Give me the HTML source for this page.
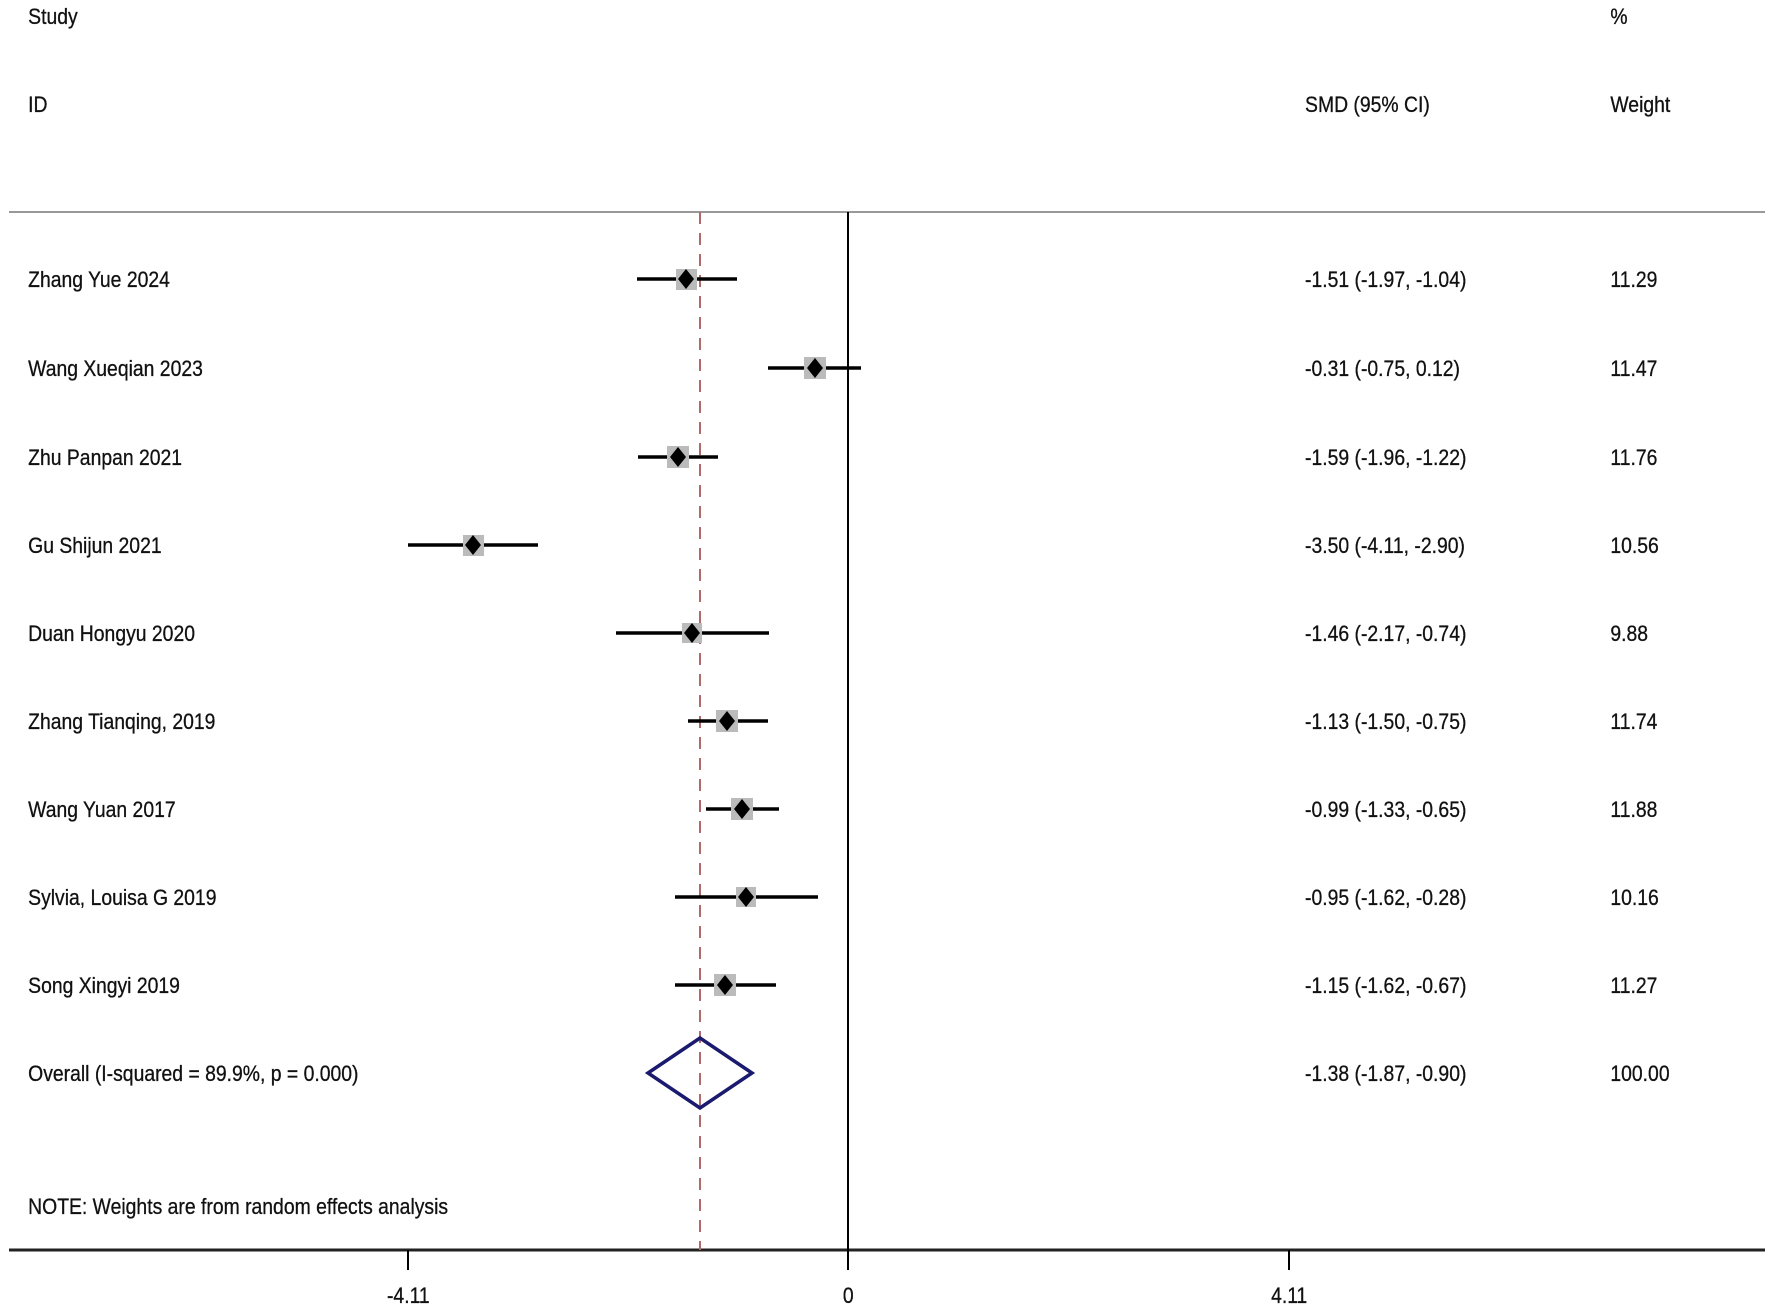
<!DOCTYPE html>
<html><head><meta charset="utf-8"><style>
html,body{margin:0;padding:0;background:#fff;}
svg{display:block;}
text{font-family:"Liberation Sans",Arial,sans-serif;font-size:22px;fill:#111;stroke:#111;stroke-width:0.3;}
</style></head><body>
<svg width="1772" height="1312" viewBox="0 0 1772 1312" xmlns="http://www.w3.org/2000/svg">
<rect width="1772" height="1312" fill="#fff"/>
<line x1="9" y1="212" x2="1765" y2="212" stroke="#999" stroke-width="2"/>
<line x1="9" y1="1250" x2="1765" y2="1250" stroke="#222" stroke-width="3"/>
<line x1="848" y1="212" x2="848" y2="1250" stroke="#000" stroke-width="2"/>
<line x1="700" y1="212" x2="700" y2="1250" stroke="#b06a6a" stroke-width="2" stroke-dasharray="12,9"/>
<g stroke="#000" stroke-width="2">
<line x1="408" y1="1250" x2="408" y2="1270"/><line x1="848" y1="1250" x2="848" y2="1270"/><line x1="1289" y1="1250" x2="1289" y2="1270"/>
</g>
<g stroke="#000" stroke-width="3.5">
<line x1="637" y1="279" x2="737" y2="279"/>
<line x1="768" y1="368" x2="861" y2="368"/>
<line x1="638" y1="457" x2="718" y2="457"/>
<line x1="408" y1="545" x2="538" y2="545"/>
<line x1="616" y1="633" x2="769" y2="633"/>
<line x1="688" y1="721" x2="768" y2="721"/>
<line x1="706" y1="809" x2="779" y2="809"/>
<line x1="675" y1="897" x2="818" y2="897"/>
<line x1="675" y1="985" x2="776" y2="985"/>
</g>
<g fill="#bbb">
<rect x="676" y="269" width="21" height="21"/>
<rect x="804" y="357" width="22" height="22"/>
<rect x="667" y="446" width="22" height="22"/>
<rect x="463" y="535" width="21" height="21"/>
<rect x="682" y="623" width="20" height="20"/>
<rect x="716" y="710" width="22" height="22"/>
<rect x="731" y="798" width="22" height="22"/>
<rect x="736" y="887" width="20" height="20"/>
<rect x="714" y="974" width="22" height="22"/>
</g>
<g fill="#000">
<polygon points="686,269 694,279 686,289 678,279"/>
<polygon points="815,358 823,368 815,378 807,368"/>
<polygon points="678,447 686,457 678,467 670,457"/>
<polygon points="473,535 481,545 473,555 465,545"/>
<polygon points="692,623 700,633 692,643 684,633"/>
<polygon points="727,711 735,721 727,731 719,721"/>
<polygon points="742,799 750,809 742,819 734,809"/>
<polygon points="746,887 754,897 746,907 738,897"/>
<polygon points="725,975 733,985 725,995 717,985"/>
</g>
<polygon points="648,1073 700,1038 752,1073 700,1108" fill="none" stroke="#1a1a6e" stroke-width="3.5"/>
<g transform="scale(0.88,1)">
<text x="32" y="24">Study</text>
<text x="32" y="112">ID</text>
<text x="1483" y="112">SMD (95% CI)</text>
<text x="1830" y="24">%</text>
<text x="1830" y="112">Weight</text>
<text x="32" y="287">Zhang Yue 2024</text>
<text x="32" y="376">Wang Xueqian 2023</text>
<text x="32" y="465">Zhu Panpan 2021</text>
<text x="32" y="553">Gu Shijun 2021</text>
<text x="32" y="641">Duan Hongyu 2020</text>
<text x="32" y="729">Zhang Tianqing, 2019</text>
<text x="32" y="817">Wang Yuan 2017</text>
<text x="32" y="905">Sylvia, Louisa G 2019</text>
<text x="32" y="993">Song Xingyi 2019</text>
<text x="32" y="1081">Overall  (I-squared = 89.9%, p = 0.000)</text>
<text x="32" y="1214">NOTE: Weights are from random effects analysis</text>
<text x="1483" y="287">-1.51 (-1.97, -1.04)</text>
<text x="1483" y="376">-0.31 (-0.75, 0.12)</text>
<text x="1483" y="465">-1.59 (-1.96, -1.22)</text>
<text x="1483" y="553">-3.50 (-4.11, -2.90)</text>
<text x="1483" y="641">-1.46 (-2.17, -0.74)</text>
<text x="1483" y="729">-1.13 (-1.50, -0.75)</text>
<text x="1483" y="817">-0.99 (-1.33, -0.65)</text>
<text x="1483" y="905">-0.95 (-1.62, -0.28)</text>
<text x="1483" y="993">-1.15 (-1.62, -0.67)</text>
<text x="1483" y="1081">-1.38 (-1.87, -0.90)</text>
<text x="1830" y="287">11.29</text>
<text x="1830" y="376">11.47</text>
<text x="1830" y="465">11.76</text>
<text x="1830" y="553">10.56</text>
<text x="1830" y="641">9.88</text>
<text x="1830" y="729">11.74</text>
<text x="1830" y="817">11.88</text>
<text x="1830" y="905">10.16</text>
<text x="1830" y="993">11.27</text>
<text x="1830" y="1081">100.00</text>
<text x="464" y="1303" text-anchor="middle">-4.11</text>
<text x="964" y="1303" text-anchor="middle">0</text>
<text x="1465" y="1303" text-anchor="middle">4.11</text>
</g>
</svg>
</body></html>
